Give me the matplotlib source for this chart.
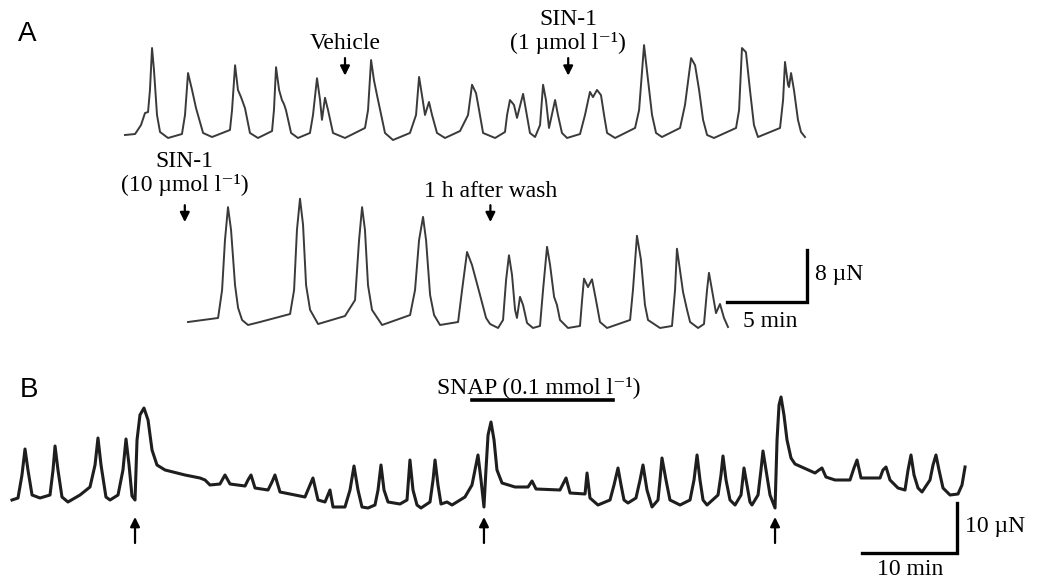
import matplotlib
matplotlib.use("Agg")
import matplotlib.pyplot as plt

SERIF = ["Liberation Serif", "DejaVu Serif"]
SANS = "Liberation Sans"

# ---- data (time in min, force in µN) ----
a1_t = [0.00, 0.63, 1.00, 1.25, 1.44, 1.56, 1.69, 1.81, 2.00, 2.19, 2.69, 3.56, 3.75, 3.94, 4.19, 4.44,
        4.88, 5.44, 6.56, 6.69, 6.88, 7.06, 7.25, 7.50, 7.81, 8.31, 9.19, 9.31, 9.44, 9.63, 9.81, 9.94,
        10.06, 10.38, 10.81, 11.56, 11.75, 12.00, 12.19, 12.31, 12.50, 12.69, 13.00, 13.75, 15.00, 15.19,
        15.38, 15.56, 15.75, 16.25, 16.75, 17.81, 18.19, 18.38, 18.56, 18.75, 19.00, 19.19, 19.50, 20.00,
        20.94, 21.44, 21.69, 21.94, 22.13, 22.38, 23.13, 23.75, 23.88, 24.06, 24.31, 24.50, 24.88, 25.06,
        25.31, 25.63, 25.94, 26.13, 26.31, 26.50, 26.88, 27.06, 27.31, 27.63, 28.44, 28.75, 29.06, 29.25,
        29.50, 29.75, 29.94, 30.13, 30.63, 31.88, 32.13, 32.44, 32.69, 32.94, 33.19, 33.56, 34.69, 35.00,
        35.38, 35.63, 35.88, 36.13, 36.38, 36.81, 38.19, 38.38, 38.56, 38.81, 39.06, 39.31, 39.56, 40.94,
        41.13, 41.25, 41.44, 41.50, 41.63, 41.81, 42.06, 42.25, 42.50]
a1_f = [0.77, 0.92, 2.3, 4.15, 4.3, 7.7, 14.15, 10.8, 3.85, 1.23, 0.31, 0.92, 3.85, 10.3, 7.7, 4.9,
        1.08, 0.46, 1.54, 4.6, 11.5, 7.7, 6.6, 4.9, 1.08, 0.31, 1.38, 4.6, 11.2, 7.7, 6.15, 5.5,
        4.6, 1.08, 0.31, 1.08, 3.85, 9.5, 6.15, 3.1, 6.5, 4.6, 1.08, 0.31, 1.85, 4.6,
        12.3, 9.2, 6.9, 1.08, 0.0, 1.08, 3.85, 9.7, 6.9, 3.85, 5.85, 3.85, 1.08, 0.31,
        1.38, 3.85, 8.5, 7.2, 4.6, 1.08, 0.31, 1.23, 3.85, 6.15, 5.4, 3.4, 7.1, 4.6,
        1.08, 0.46, 2.3, 8.5, 6.15, 1.85, 6.15, 3.85, 1.08, 0.31, 0.92, 3.85, 7.4, 6.6,
        7.7, 6.9, 3.85, 1.08, 0.31, 1.85, 4.6, 14.6, 9.2, 3.85, 1.08, 0.46, 1.85, 5.4,
        12.6, 11.5, 7.7, 3.1, 0.77, 0.31, 1.85, 4.6, 14.15, 13.5, 7.7, 2.3, 0.46, 1.85,
        6.15, 12.0, 8.5, 8.15, 10.3, 7.7, 3.1, 1.23, 0.46]

a2_t = [0.00, 1.88, 2.13, 2.31, 2.50, 2.69, 2.94, 3.13, 3.38, 3.75, 4.50, 6.38, 6.63, 6.81, 7.00, 7.19,
        7.38, 7.63, 8.13, 9.81, 10.44, 10.69, 10.88, 11.06, 11.25, 11.50, 12.13, 13.88, 14.19, 14.44,
        14.69, 14.88, 15.13, 15.38, 15.75, 16.88, 17.13, 17.44, 17.75, 18.25, 18.63, 18.88, 19.38, 19.69,
        19.88, 20.06, 20.25, 20.44, 20.56, 20.75, 20.94, 21.19, 21.56, 22.00, 22.19, 22.44, 22.63, 22.88,
        23.06, 23.25, 23.75, 24.50, 24.63, 24.75, 25.00, 25.25, 25.50, 25.75, 26.19, 27.63, 27.81, 28.06,
        28.31, 28.56, 28.75, 29.50, 30.25, 30.44, 30.56, 30.75, 30.94, 31.19, 31.38, 31.88, 32.25, 32.44,
        32.56, 32.75, 33.00, 33.25, 33.50, 33.75]
a2_f = [1.23, 1.85, 6.15, 13.8, 18.9, 15.4, 6.9, 3.4, 1.54, 0.77, 1.23, 2.46, 6.15, 15.4, 20.2, 16.2,
        6.9, 3.1, 0.92, 2.15, 4.6, 13.8, 18.9, 15.4, 6.9, 3.1, 0.77, 2.3, 6.15, 13.8,
        17.4, 13.8, 5.4, 2.3, 0.77, 1.23, 6.15, 12.0, 10.0, 5.4, 1.85, 0.92, 0.31, 1.54,
        7.7, 11.5, 8.5, 3.1, 1.85, 5.1, 3.85, 1.08, 0.31, 0.62, 6.15, 12.8, 10.0, 5.1,
        3.85, 1.54, 0.31, 0.62, 4.6, 7.9, 6.6, 7.8, 4.6, 1.23, 0.31, 1.54, 6.15, 14.5,
        10.8, 3.85, 1.54, 0.31, 0.62, 6.15, 12.5, 9.2, 5.85, 3.1, 1.23, 0.31, 0.92, 6.15,
        8.8, 6.15, 2.6, 4.0, 1.85, 0.46]

b_t = [0.00, 0.63, 1.05, 1.37, 1.68, 2.11, 2.95, 4.00, 4.32, 4.53, 4.84, 5.26, 5.89, 7.16, 8.21, 8.74,
       9.05, 9.37, 9.89, 10.32, 11.16, 11.68, 12.00, 12.32, 12.63, 12.95, 13.16, 13.47, 13.89, 14.32,
       14.74, 15.26, 16.11, 18.21, 19.79, 20.32, 20.84, 21.89, 22.42, 22.95, 24.53, 24.84, 25.16, 25.58,
       26.95, 27.37, 27.68, 28.21, 30.84, 31.37, 31.68, 32.21, 32.95, 33.47, 33.79, 35.05, 35.58, 36.00,
       36.42, 36.84, 37.47, 38.21, 38.53, 38.84, 39.16, 39.58, 40.84, 41.58, 41.89, 42.21, 42.63, 43.05,
       44.00, 44.32, 44.53, 44.84, 45.16, 45.79, 46.32, 47.68, 48.42, 49.05, 49.37, 49.68, 49.89, 50.11,
       50.42, 50.74, 51.05, 51.58, 52.95, 54.32, 54.74, 55.16, 57.68, 58.00, 58.32, 58.74, 60.32, 60.53,
       60.84, 61.68, 62.95, 63.37, 63.79, 64.11, 64.42, 64.84, 65.68, 66.11, 66.42, 66.84, 67.37, 68.00,
       68.21, 68.42, 68.84, 69.26, 70.32, 71.37, 71.79, 72.11, 72.42, 72.74, 73.16, 74.32, 74.63, 74.84,
       75.16, 75.58, 76.11, 76.74, 77.05, 77.37, 77.68, 77.89, 78.53, 78.84, 79.05, 79.37, 79.79, 80.32,
       80.53, 80.74, 80.95, 81.26, 81.58, 82.00, 82.42, 84.53, 84.95, 85.26, 85.68, 86.63, 88.21, 88.63,
       88.95, 89.37, 91.37, 91.68, 92.00, 92.42, 93.26, 94.00, 94.32, 94.63, 94.95, 95.37, 95.79, 96.63,
       96.95, 97.26, 97.58, 98.00, 98.74, 99.58, 100.00, 100.32]
b_f = [3.0, 3.4, 8.0, 13.2, 9.0, 4.0, 3.4, 4.0, 9.0, 13.8, 9.0, 3.6, 2.6, 4.0, 5.6, 10.0,
       15.4, 10.0, 3.6, 3.0, 4.0, 9.0, 15.2, 10.0, 3.8, 3.0, 15.0, 20.0, 21.4, 19.0,
       13.0, 10.0, 9.0, 8.0, 7.4, 7.0, 6.0, 6.2, 8.0, 6.2, 5.8, 7.0, 8.0, 5.4,
       5.0, 6.6, 8.0, 4.6, 3.6, 6.0, 7.4, 3.0, 2.6, 5.0, 1.6, 1.6, 5.0, 9.8,
       5.0, 1.6, 1.4, 2.0, 5.0, 10.0, 5.0, 2.6, 2.2, 3.0, 11.0, 5.0, 2.0, 1.4,
       2.6, 7.0, 11.0, 6.0, 2.2, 2.6, 2.0, 3.6, 6.0, 12.0, 7.0, 1.6, 9.0, 16.0,
       18.6, 15.0, 9.0, 6.4, 5.6, 5.6, 6.8, 5.2, 5.0, 6.2, 7.4, 4.4, 4.2, 8.4,
       3.4, 2.0, 3.0, 6.0, 9.4, 6.0, 3.0, 2.4, 3.4, 7.0, 10.0, 5.0, 1.6, 3.0,
       7.0, 11.4, 7.0, 3.0, 2.0, 3.0, 7.0, 12.0, 7.0, 3.0, 2.0, 4.0, 8.0, 11.8,
       7.0, 3.0, 2.0, 4.0, 9.4, 6.0, 2.6, 2.0, 4.0, 9.0, 12.8, 9.0, 4.0, 1.4,
       15.0, 22.0, 23.6, 20.0, 15.0, 11.4, 10.2, 8.4, 9.0, 9.4, 7.6, 7.0, 7.0, 9.4,
       11.0, 7.4, 7.4, 9.0, 9.6, 7.0, 5.4, 5.0, 9.0, 12.0, 8.0, 5.4, 4.6, 7.0,
       10.0, 12.0, 9.0, 5.4, 4.0, 4.2, 6.0, 9.6]

# drug additions (min) and their labels, one list entry per text line
a1_events = [13.75, 27.7]
a1_event_labels = [["Vehicle"], ["SIN-1", "(1 µmol l⁻¹)"]]
a2_events = [-0.2, 18.9]
a2_event_labels = [["SIN-1", "(10 µmol l⁻¹)"], ["1 h after wash"]]
b_events = [12.95, 49.68, 80.32]
snap_start, snap_end = 48.4, 63.3

W, H = 1037, 579
FS = 17
fig = plt.figure(figsize=(W / 100, H / 100), dpi=100)
fig.patch.set_facecolor("white")


def trace_axes(x0, sx, y0, sy):
    # full-figure axes whose data units are min / µN at the given pixel scale
    ax = fig.add_axes([0, 0, 1, 1])
    ax.set_xlim(-x0 / sx, (W - x0) / sx)
    ax.set_ylim((y0 - H) / sy, y0 / sy)
    ax.axis("off")
    ax.patch.set_alpha(0)
    return ax


def label(ax, t, base, lines, step):
    # stacked serif lines, last line's baseline at `base`
    for i, line in enumerate(reversed(lines)):
        ax.text(t, base + i * step, line, ha="center", va="baseline", family=SERIF, fontsize=FS)


arrow_kw = dict(arrowstyle="-|>", color="black", lw=1.6, mutation_scale=14, shrinkA=0, shrinkB=0)

# panel A, top trace
ax1 = trace_axes(125, 16, 140, 6.5)
ax1.plot(a1_t, a1_f, color="#3a3a3a", lw=1.4, solid_joinstyle="round")
for t, lab in zip(a1_events, a1_event_labels):
    ax1.annotate("", xy=(t, 9.9), xytext=(t, 12.6), arrowprops=arrow_kw)
    label(ax1, t, 14.0, lab, 3.7)

# panel A, bottom trace
ax2 = trace_axes(188, 16, 330, 6.5)
ax2.plot(a2_t, a2_f, color="#3a3a3a", lw=1.4, solid_joinstyle="round")
label(ax2, a2_events[0], 21.4, a2_event_labels[0], 3.7)
label(ax2, a2_events[1], 20.5, a2_event_labels[1], 3.7)
for t in a2_events:
    ax2.annotate("", xy=(t, 16.6), xytext=(t, 19.2), arrowprops=arrow_kw)
# scale bar: 5 min x 8 µN
ax2.plot([33.7, 38.7, 38.7], [4.3, 4.3, 12.3], color="black", lw=2.4, solid_joinstyle="miter")
ax2.text(39.2, 7.7, "8 µN", ha="left", va="baseline", family=SERIF, fontsize=FS)
ax2.text(36.4, 0.46, "5 min", ha="center", va="baseline", family=SERIF, fontsize=FS)

# panel B
ax3 = trace_axes(12, 9.5, 515, 5)
ax3.plot(b_t, b_f, color="#1e1e1e", lw=2.2, solid_joinstyle="round")
for t in b_events:
    ax3.annotate("", xy=(t, -0.4), xytext=(t, -5.6), arrowprops=arrow_kw)
ax3.plot([snap_start, snap_end], [23, 23], color="black", lw=2.6)
ax3.text((snap_start + snap_end) / 2 - 0.4, 24.4, "SNAP (0.1 mmol l⁻¹)",
         ha="center", va="baseline", family=SERIF, fontsize=FS)
# scale bar: 10 min x 10 µN
ax3.plot([89.5, 99.5, 99.5], [-7.6, -7.6, 2.4], color="black", lw=2.4, solid_joinstyle="miter")
ax3.text(100.3, -3.4, "10 µN", ha="left", va="baseline", family=SERIF, fontsize=FS)
ax3.text(94.5, -12.0, "10 min", ha="center", va="baseline", family=SERIF, fontsize=FS)

fig.text(18 / W, 1 - 34 / H, "A", family=SANS, fontsize=20, va="center", ha="left")
fig.text(20 / W, 1 - 390 / H, "B", family=SANS, fontsize=20, va="center", ha="left")

fig.savefig("out.png", dpi=100, facecolor="white")
